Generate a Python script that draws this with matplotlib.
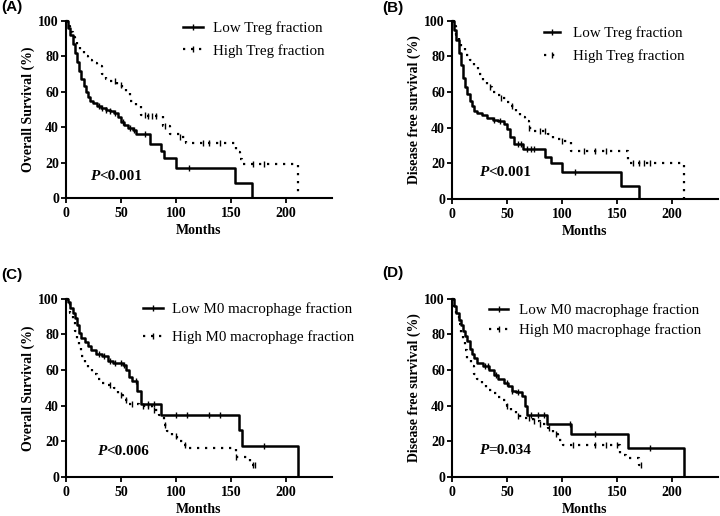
import matplotlib
matplotlib.use("Agg")
import matplotlib.pyplot as plt
from matplotlib.lines import Line2D

plt.rcParams['font.family'] = ['Liberation Serif', 'DejaVu Serif']

# ---------------- data ----------------
# Each curve: step times (months) and survival (%) from that time onward.
# Panel A: Overall survival, Treg
A_low_t = [0, 2, 4, 6, 8, 10, 12, 14, 16, 18, 20, 22, 25, 28, 32, 36, 40, 44, 47, 50, 53, 56, 61, 64, 76, 86, 89, 100, 154, 169]
A_low_s = [100, 96, 92, 87, 82, 77, 72, 67, 63, 60, 57, 55, 53.5, 52, 51, 50, 49, 48, 46, 43, 41, 39.5, 38.5, 36, 30.6, 26.5, 22.5, 16.9, 8.5, 0]
A_low_c = [30, 33, 36, 40, 45, 52, 58, 62, 72, 112]
A_high_t = [0, 2, 4, 6, 8, 10, 13, 16, 20, 24, 28, 33, 36, 40, 46, 51, 55, 58, 64, 68, 74, 88, 95, 104, 109, 155, 158, 160, 211]
A_high_s = [100, 97, 94, 91, 88, 86, 83, 80.5, 78, 76, 74.5, 70, 67.5, 66, 64, 62, 60, 55, 52, 47, 46.5, 40.5, 36, 34.5, 31, 26, 22, 19, 0]
A_high_c = [45, 50, 72, 75, 78, 82, 90, 104, 125, 130, 140, 170, 180]

# Panel B: Disease free survival, Treg
B_low_t = [0, 2, 4, 6, 8, 10, 12, 14, 16, 18, 20, 23, 27, 32, 37, 42, 47, 50, 53, 56, 65, 85, 90, 100, 154, 170]
B_low_s = [100, 95, 89, 82, 75, 68, 63, 59, 55, 52, 49.5, 48, 47, 45.5, 44.5, 43.5, 42, 39, 35, 31, 28, 23.5, 20, 15, 7.5, 0]
B_low_c = [38, 44, 60, 63, 68, 72, 75, 112]
B_high_t = [0, 2, 4, 6, 8, 12, 16, 20, 24, 28, 32, 36, 40, 45, 50, 54, 58, 62, 66, 70, 75, 87, 92, 100, 108, 160, 211]
B_high_s = [100, 97, 92, 88, 85, 81, 78, 74, 70, 66, 63, 60, 58.5, 56.5, 54.5, 52, 49, 46, 43.5, 40, 38, 36.5, 33.5, 32.5, 27, 20, 0]
B_high_c = [35, 45, 55, 70, 80, 85, 100, 120, 130, 140, 165, 170, 175, 180]

# Panel C: Overall survival, M0 macrophage
C_low_t = [0, 2, 4, 6, 8, 10, 12, 14, 17, 20, 23, 27, 33, 38, 43, 52, 55, 57, 60, 65, 68, 86, 157, 160, 211]
C_low_s = [100, 98, 95, 92, 89, 85, 81, 78, 75.5, 73.5, 71, 69, 68, 65, 64, 63, 60, 56, 54, 48, 41, 35, 26.5, 17.6, 0]
C_low_c = [30, 35, 40, 45, 50, 53, 64, 75, 80, 100, 110, 130, 140, 180]
C_high_t = [0, 2, 4, 6, 8, 10, 12, 14, 17, 20, 24, 28, 32, 38, 44, 47, 52, 56, 66, 78, 85, 89, 92, 96, 101, 106, 110, 155, 167]
C_high_s = [100, 97, 92, 87, 82, 77, 73, 68, 64, 61, 58, 55, 53, 51.5, 50, 46, 43, 41, 40, 37.5, 35, 29, 26, 23, 20, 18, 16, 11, 6.5]
C_high_c = [40, 50, 55, 60, 70, 75, 80, 90, 100, 108, 155, 170, 172]
C_high_end = 172

# Panel D: Disease free survival, M0 macrophage
D_low_t = [0, 2, 4, 6, 8, 10, 12, 14, 16, 18, 20, 23, 28, 34, 38, 42, 47, 51, 55, 58, 64, 66, 68, 86, 108, 160, 211]
D_low_s = [100, 96, 92, 88, 85, 82, 79, 76, 72, 69, 66.5, 64, 62, 60, 57, 55, 53, 51, 48.5, 47.5, 45.5, 40, 35, 30, 24, 16, 0]
D_low_c = [30, 33, 40, 50, 55, 60, 72, 78, 84, 107, 130, 180]
D_high_t = [0, 2, 4, 6, 8, 10, 12, 14, 17, 20, 23, 27, 31, 36, 42, 46, 50, 54, 58, 64, 74, 80, 87, 92, 96, 101, 153, 158, 170]
D_high_s = [100, 96, 91, 86, 81, 76, 71, 66, 62, 58, 55, 52, 49, 47, 45, 43, 40, 37, 34, 33, 31.5, 29.5, 27.5, 24, 21, 18, 12.5, 10.5, 7]
D_high_c = [50, 60, 70, 75, 80, 88, 95, 110, 130, 140, 150, 172]
D_high_end = 172

panel_letters = ['(A)', '(B)', '(C)', '(D)']
ylabels = ['Overall Survival (%)', 'Disease free survival (%)',
           'Overall Survival (%)', 'Disease free survival (%)']
legend_labels = [['Low Treg fraction', 'High Treg fraction'],
                 ['Low Treg fraction', 'High Treg fraction'],
                 ['Low M0 macrophage fraction', 'High M0 macrophage fraction'],
                 ['Low M0 macrophage fraction', 'High M0 macrophage fraction']]
p_labels = ['<0.001', '<0.001', '<0.006', '=0.034']
x_ticks = [0, 50, 100, 150, 200]
y_ticks = [0, 20, 40, 60, 80, 100]

curves = [
    (A_low_t, A_low_s, A_low_c, None, A_high_t, A_high_s, A_high_c, None),
    (B_low_t, B_low_s, B_low_c, None, B_high_t, B_high_s, B_high_c, None),
    (C_low_t, C_low_s, C_low_c, None, C_high_t, C_high_s, C_high_c, C_high_end),
    (D_low_t, D_low_s, D_low_c, None, D_high_t, D_high_s, D_high_c, D_high_end),
]

# ---------------- layout ----------------
W, H = 720, 516
fig = plt.figure(figsize=(7.2, 5.16), dpi=100)
rects = [(66, 21, 332, 198), (452, 20.7, 718, 199), (66, 298.7, 332, 477), (452, 298.7, 718, 477)]
letter_pos = [(1, 7), (382, 8), (1, 275), (382, 273)]
leg_pos = [(0.44, 1.0, 0.6, 1.3, 0.7), (0.346, 0.97, 0.65, 1.05, 0.9),
           (0.29, 0.98, 0.95, 1.3, 0.65), (0.139, 0.976, 0.45, 1.3, 0.7)]
p_pos = [(21.8, 12), (24.4, 15), (27.9, 14.4), (24.4, 14.8)]

DOT = (0, (1, 2.6))


def step_value(t, s, c):
    v = s[0]
    for ti, si in zip(t, s):
        if ti <= c:
            v = si
    return v


for i, (x0, y0, x1, y1) in enumerate(rects):
    ax = fig.add_axes([x0 / W, 1 - y1 / H, (x1 - x0) / W, (y1 - y0) / H])
    lt, ls_, lc, lend, ht, hs, hc, hend = curves[i]

    for t, s, cen, end, style, lw in [(lt, ls_, lc, lend, '-', 1.8), (ht, hs, hc, hend, DOT, 1.6)]:
        tt = list(t)
        ss = list(s)
        if end is not None:
            tt.append(end)
            ss.append(ss[-1])
        ax.step(tt, ss, where='post', color='black', linestyle=style, linewidth=lw,
                clip_on=False, solid_capstyle='butt')
        cy = [step_value(t, s, c) for c in cen]
        ax.plot(cen, cy, linestyle='none', marker='|', markersize=4.5,
                markeredgewidth=1.0, color='black', clip_on=False)

    ax.set_xlim(0, 242)
    ax.set_ylim(0, 100)
    ax.set_xticks(x_ticks)
    ax.set_yticks(y_ticks)
    for sp in ['top', 'right']:
        ax.spines[sp].set_visible(False)
    for sp in ['left', 'bottom']:
        ax.spines[sp].set_linewidth(1.5)
    ax.tick_params(axis='both', direction='out', length=3.5, width=1.3, labelsize=10)
    ax.tick_params(axis='y', pad=1.5)
    ax.tick_params(axis='x', pad=3)
    for lab in ax.get_xticklabels() + ax.get_yticklabels():
        lab.set_fontweight('bold')

    ax.set_xlabel('Months', fontsize=10, fontweight='bold')
    ax.xaxis.set_label_coords(0.5, -0.148)
    ax.set_ylabel(ylabels[i], fontsize=10, fontweight='bold')
    ax.yaxis.set_label_coords(-0.115, 0.5)

    lx, ly, lsp, hl, htp = leg_pos[i]
    handles = [Line2D([], [], color='black', linestyle='-', linewidth=1.8, marker='|',
                      markersize=4.5, markeredgewidth=1.0),
               Line2D([], [], color='black', linestyle=DOT, linewidth=1.6, marker='|',
                      markersize=4.5, markeredgewidth=1.0)]
    ax.legend(handles, legend_labels[i], loc='upper left', bbox_to_anchor=(lx, ly),
              frameon=False, fontsize=10.8, handlelength=hl, handletextpad=htp,
              labelspacing=lsp, borderpad=0, borderaxespad=0, numpoints=1)

    px, py = p_pos[i]
    tp = ax.text(px, py, 'P', fontsize=11, fontweight='bold', fontstyle='italic',
                 va='center', ha='left')
    ax.annotate(p_labels[i], xy=(1, 0.5), xycoords=tp, fontsize=11, fontweight='bold',
                va='center', ha='left')

    lxp, lyp = letter_pos[i]
    fig.text(lxp / W, 1 - lyp / H, panel_letters[i], fontsize=11, fontweight='bold',
             family=['Liberation Sans', 'DejaVu Sans'], ha='left', va='center')

fig.savefig('out.png', dpi=100)
